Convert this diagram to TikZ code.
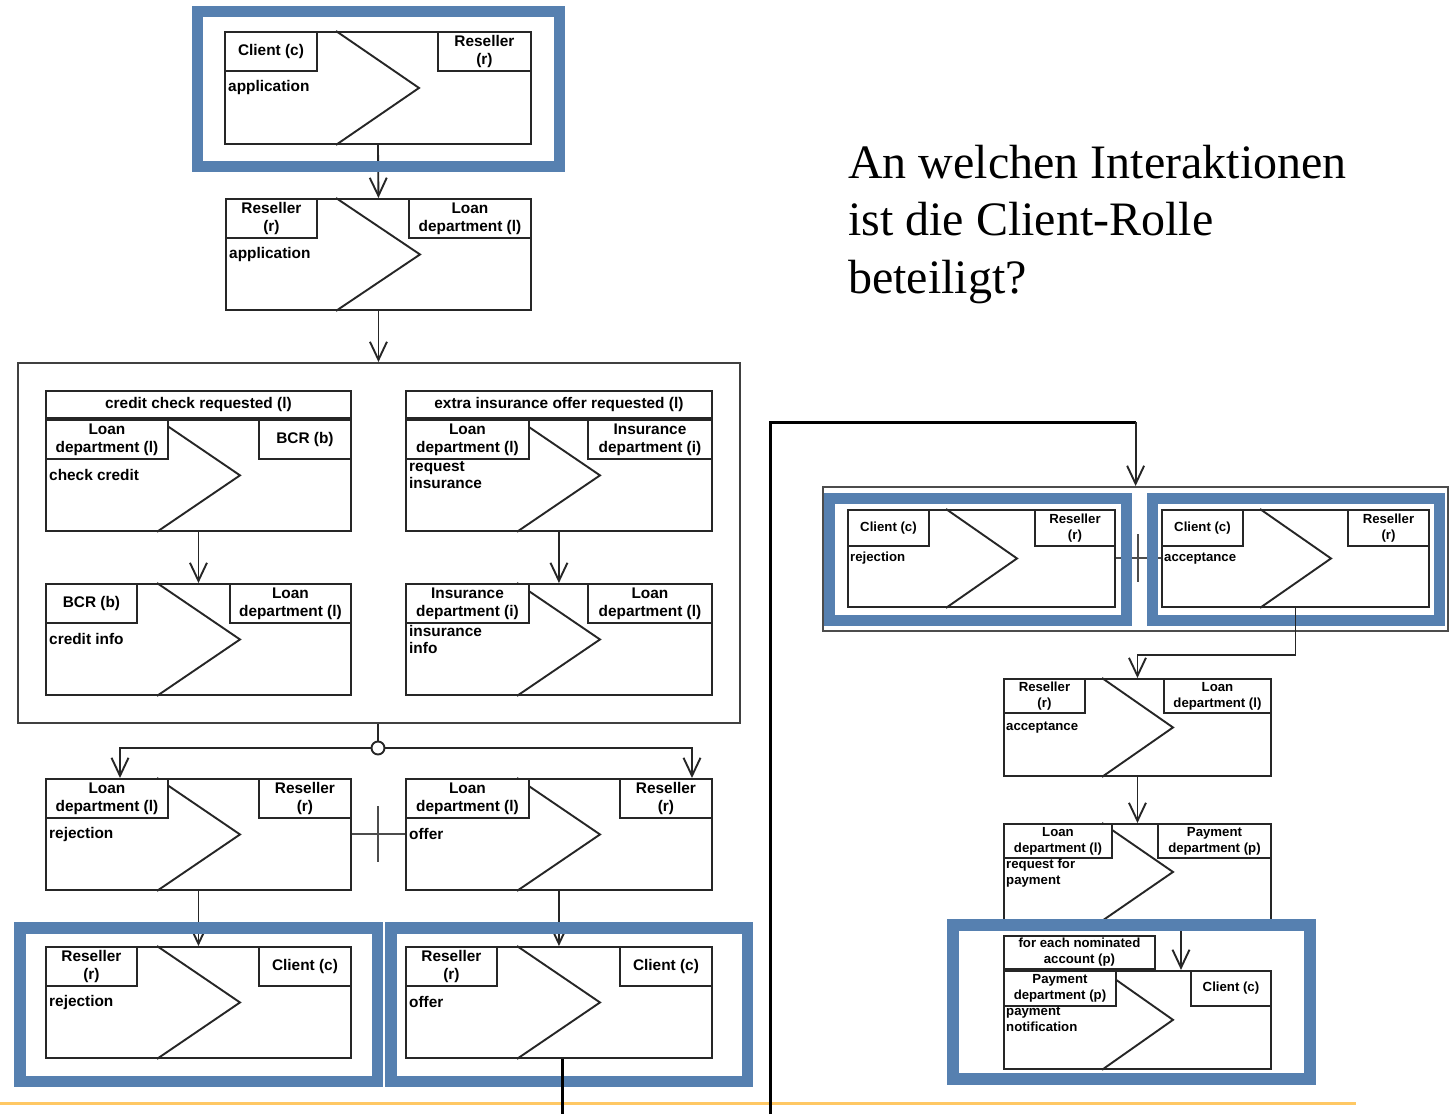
\documentclass[tikz,border=0pt]{standalone}
\usepackage{fontspec}
\setmainfont{Liberation Serif}
\newfontfamily\arialf{Liberation Sans}
\usetikzlibrary{arrows.meta,calc}
\definecolor{hlblue}{RGB}{86,128,176}
\definecolor{hlyellow}{RGB}{255,200,100}
\colorlet{ink}{black!85}
\newcommand\fntL{\arialf\bfseries\fontsize{15.4}{18}\selectfont}
\newcommand\fntS{\arialf\bfseries\fontsize{13.2}{16}\selectfont}
\tikzset{
 ibox/.style={draw=ink, line width=1.9pt, inner sep=0pt, anchor=north west},
 bodyL/.style={ibox, minimum width=305pt, minimum height=111pt},
 bodyS/.style={ibox, minimum width=267pt, minimum height=97pt},
 roleL/.style={ibox, fill=white, align=center, font=\fntL, minimum height=39pt},
 roleS/.style={ibox, fill=white, align=center, font=\fntS, minimum height=34pt},
 msgL/.style={inner sep=0pt, align=left, font=\fntL},
 msgS/.style={inner sep=0pt, align=left, font=\fntS},
 chevline/.style={draw=ink, line width=1.9pt, line join=miter},
 arr/.style={draw=ink, line width=1.9pt, -{Straight Barb[length=18pt,width=17pt]}},
 plain/.style={draw=ink, line width=1.9pt},
 xorl/.style={draw=black!70, line width=2pt},
 hl/.style={draw=hlblue, line width=11.5pt},
 bigline/.style={draw=black, line width=3pt},
 question/.style={anchor=base west, inner sep=0pt, font=\fontsize{48}{57.5}\selectfont},
}
\newcommand\chev[3]{\draw[chevline] ($(#1.north west)+(#2,0)$) -- ($(#1.west)+(#3,0)$) -- ($(#1.south west)+(#2,0)$);}
\begin{document}
\begin{tikzpicture}[x=1pt,y=-1pt]
\useasboundingbox (0,0) rectangle (1454,1114);
\fill[white] (0,0) rectangle (1454,1114);

% yellow rule
\draw[hlyellow, line width=3pt] (0,1103.5) -- (1356,1103.5);

% ---------- T1 ----------
\node[bodyL, minimum width=306pt, minimum height=112pt] (t1) at (224,31) {};
\chev{t1}{112}{195}
\node[roleL, minimum width=92pt] (t1a) at (t1.north west) {Client (c)};
\node[roleL, minimum width=93pt, anchor=north east] (t1b) at (t1.north east) {Reseller\\(r)};
\node[msgL, anchor=west] (t1m) at ($(t1.west)+(4,0)$) {application};

% ---------- T2 ----------
\node[bodyL] (t2) at (225,198) {};
\chev{t2}{111}{195}
\node[roleL, minimum width=91pt] (t2a) at (t2.north west) {Reseller\\(r)};
\node[roleL, minimum width=122pt, anchor=north east] (t2b) at (t2.north east) {Loan\\department (l)};
\node[msgL, anchor=west] (t2m) at ($(t2.west)+(4,0)$) {application};
\draw[arr] (t1.south) -- (t2.north);

% ---------- container ----------
\node[draw=black!75, line width=2.2pt, minimum width=722pt, minimum height=360pt, inner sep=0pt, anchor=north west] (cont) at (17,362) {};
\draw[arr] (t2.south) -- (t2.south |- cont.north);

% A1
\node[ibox, fill=white, minimum width=305pt, minimum height=27pt, font=\fntL] (a1h) at (45,390) {credit check requested (l)};
\node[bodyL] (a1) at (a1h.south west) {};
\chev{a1}{112}{195}
\node[roleL, minimum width=122pt] (a1a) at (a1.north west) {Loan\\department (l)};
\node[roleL, minimum width=92pt, anchor=north east] (a1b) at (a1.north east) {BCR (b)};
\node[msgL, anchor=west] (a1m) at ($(a1.west)+(4,0)$) {check credit};

% A2
\node[ibox, fill=white, minimum width=306pt, minimum height=27pt, font=\fntL] (a2h) at (405,390) {extra insurance offer requested (l)};
\node[bodyL, minimum width=306pt] (a2) at (a2h.south west) {};
\chev{a2}{112}{195}
\node[roleL, minimum width=123pt] (a2a) at (a2.north west) {Loan\\department (l)};
\node[roleL, minimum width=124pt, anchor=north east] (a2b) at (a2.north east) {Insurance\\department (i)};
\node[msgL, anchor=north west, font=\arialf\bfseries\fontsize{15.4}{17}\selectfont] (a2m) at ($(a2a.south west)+(4,1)$) {request\\insurance};

% B1
\node[bodyL] (b1) at (45,583) {};
\chev{b1}{112}{195}
\node[roleL, minimum width=91pt] (b1a) at (b1.north west) {BCR (b)};
\node[roleL, minimum width=121pt, anchor=north east] (b1b) at (b1.north east) {Loan\\department (l)};
\node[msgL, anchor=west] (b1m) at ($(b1.west)+(4,0)$) {credit info};

% B2
\node[bodyL, minimum width=306pt] (b2) at (405,583) {};
\chev{b2}{112}{195}
\node[roleL, minimum width=123pt] (b2a) at (b2.north west) {Insurance\\department (i)};
\node[roleL, minimum width=124pt, anchor=north east] (b2b) at (b2.north east) {Loan\\department (l)};
\node[msgL, anchor=north west, font=\arialf\bfseries\fontsize{15.4}{17}\selectfont] (b2m) at ($(b2a.south west)+(4,1)$) {insurance\\info};

\draw[arr] (a1.south) -- (b1.north);
\draw[arr] (a2.south) -- (b2.north);

% ---------- C row ----------
\node[bodyL] (c1) at (45,778) {};
\chev{c1}{112}{195}
\node[roleL, minimum width=122pt] (c1a) at (c1.north west) {Loan\\department (l)};
\node[roleL, minimum width=92pt, anchor=north east] (c1b) at (c1.north east) {Reseller\\(r)};
\node[msgL, anchor=west] (c1m) at ($(c1.west)+(4,0)$) {rejection};

\node[bodyL, minimum width=306pt] (c2) at (405,778) {};
\chev{c2}{112}{195}
\node[roleL, minimum width=123pt] (c2a) at (c2.north west) {Loan\\department (l)};
\node[roleL, minimum width=92pt, anchor=north east] (c2b) at (c2.north east) {Reseller\\(r)};
\node[msgL, anchor=west] (c2m) at ($(c2.west)+(4,0)$) {offer};

% fork
\node[circle, draw=ink, line width=1.9pt, fill=white, minimum size=13pt, inner sep=0pt] (fork) at (378,748) {};
\draw[plain] (cont.south -| fork) -- (fork.north);
\coordinate (c1in) at ($(c1.north west)+(75,0)$);
\coordinate (c2in) at ($(c2.north west)+(287,0)$);
\draw[arr] (fork.west) -| (c1in);
\draw[arr] (fork.east) -| (c2in);

% xor
\draw[xorl] (c1.east) -- coordinate[pos=0.5] (xor1) (c2.west);
\draw[xorl] ($(xor1)+(0,-28)$) -- ($(xor1)+(0,28)$);

% ---------- D row ----------
\node[bodyL] (d1) at (45,946) {};
\chev{d1}{112}{195}
\node[roleL, minimum width=91pt] (d1a) at (d1.north west) {Reseller\\(r)};
\node[roleL, minimum width=92pt, anchor=north east] (d1b) at (d1.north east) {Client (c)};
\node[msgL, anchor=west] (d1m) at ($(d1.west)+(4,0)$) {rejection};

\node[bodyL, minimum width=306pt] (d2) at (405,946) {};
\chev{d2}{112}{195}
\node[roleL, minimum width=91pt] (d2a) at (d2.north west) {Reseller\\(r)};
\node[roleL, minimum width=92pt, anchor=north east] (d2b) at (d2.north east) {Client (c)};
\node[msgL, anchor=west] (d2m) at ($(d2.west)+(4,0)$) {offer};

\draw[arr] (c1.south) -- (d1.north);
\draw[arr] (c2.south) -- (d2.north);

% ---------- question ----------
\node[question] (q1) at (848,178) {An welchen Interaktionen};
\node[question] (q2) at (848,235.5) {ist die Client-Rolle};
\node[question] (q3) at (848,293) {beteiligt?};

% ---------- right side ----------
\node[draw=black!70, line width=2.2pt, minimum width=625pt, minimum height=144pt, inner sep=0pt, anchor=north west] (econt) at (822,486) {};

\node[bodyS] (e1) at (847,509) {};
\chev{e1}{99}{170}
\node[roleS, minimum width=81pt, minimum height=36pt] (e1a) at (e1.north west) {Client (c)};
\node[roleS, minimum width=80pt, minimum height=36pt, anchor=north east] (e1b) at (e1.north east) {Reseller\\(r)};
\node[msgS, anchor=west] (e1m) at ($(e1.west)+(3,0)$) {rejection};

\node[bodyS] (e2) at (1161,509) {};
\chev{e2}{99}{170}
\node[roleS, minimum width=81pt, minimum height=36pt] (e2a) at (e2.north west) {Client (c)};
\node[roleS, minimum width=81pt, minimum height=36pt, anchor=north east] (e2b) at (e2.north east) {Reseller\\(r)};
\node[msgS, anchor=west] (e2m) at ($(e2.west)+(3,0)$) {acceptance};

\draw[xorl] (e1.east) -- coordinate[pos=0.5] (xor2) (e2.west);
\draw[xorl] ($(xor2)+(0,-24)$) -- ($(xor2)+(0,24)$);

% F
\node[bodyS] (f) at (1003,678) {};
\chev{f}{99}{170}
\node[roleS, minimum width=81pt] (fa) at (f.north west) {Reseller\\(r)};
\node[roleS, minimum width=107pt, anchor=north east] (fb) at (f.north east) {Loan\\department (l)};
\node[msgS, anchor=west] (fm) at ($(f.west)+(3,0)$) {acceptance};

% G
\node[bodyS, minimum height=96pt] (g) at (1003,823) {};
\chev{g}{99}{170}
\node[roleS, minimum width=108pt] (ga) at (g.north west) {Loan\\department (l)};
\node[roleS, minimum width=113pt, anchor=north east] (gb) at (g.north east) {Payment\\department (p)};
\node[msgS, anchor=north west] (gm) at ($(ga.south west)+(3,0)$) {request for\\payment};

% H
\node[ibox, fill=white, minimum width=151pt, minimum height=33pt, align=center, font=\fntS] (hh) at (1003,935) {for each nominated\\account (p)};
\node[bodyS, minimum height=98pt] (h) at (hh.south west) {};
\chev{h}{99}{170}
\node[roleS, minimum width=112pt, minimum height=35pt] (ha) at (h.north west) {Payment\\department (p)};
\node[roleS, minimum width=80pt, minimum height=35pt, anchor=north east] (hb) at (h.north east) {Client (c)};
\node[msgS, anchor=north west] (hm) at ($(ha.south west)+(3,0)$) {payment\\notification};

\draw[arr] (f.south) -- (g.north);
\draw[arr] ($(g.south west)+(178,0)$) -- ($(h.north west)+(178,0)$);

% ---------- highlight frames ----------
\draw[hl] (197.5,11.5) rectangle (559.5,166.5);
\draw[hl] (19.75,927.75) rectangle (377.25,1081.25);
\draw[hl] (390.75,927.75) rectangle (747.25,1081.25);
\draw[hl] (829.5,498.5) rectangle (1126.5,620.5);
\draw[hl] (1152.5,498.5) rectangle (1439.5,620.5);
\draw[hl] (953,925) rectangle (1310,1079);

% ---------- connectors over frames ----------
\draw[arr] (e2.south) -- ++(0,47) -| (f.north);
\coordinate (exitA) at (562.5,1114);
\draw[bigline] (d2.south -| exitA) -- (exitA);
\coordinate (exitB) at (770,1114);
\coordinate (turn) at (econt.north |- 0,422);
\draw[bigline] (exitB) |- (turn);
\draw[arr] (turn) -- (econt.north);
\end{tikzpicture}
\end{document}
